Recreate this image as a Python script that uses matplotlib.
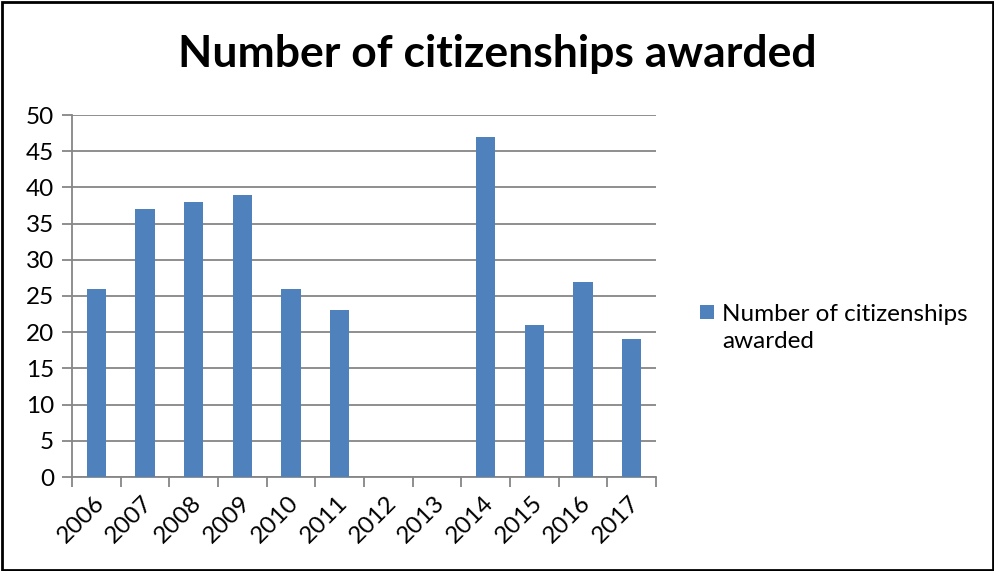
import matplotlib
matplotlib.use("Agg")
import matplotlib.pyplot as plt
from matplotlib.patches import Rectangle
from matplotlib.legend_handler import HandlerPatch

anos = ["2006", "2007", "2008", "2009", "2010", "2011", "2012", "2013",
        "2014", "2015", "2016", "2017"]
cidadanias = [26, 37, 38, 39, 26, 23, 0, 0, 47, 21, 27, 19]
rotulo_serie = "Number of citizenships\nawarded"
titulo = "Number of citizenships awarded"

cor_barra = "#4F81BD"
cor_eixo = "#868686"
tam_fonte = 17.5
espaco_linha = 1.3


class HandlerPrimeiraLinha(HandlerPatch):
    # alinha o quadrado da legenda com a primeira linha do texto
    def create_artists(self, legend, orig_handle, xdescent, ydescent,
                       width, height, fontsize, trans):
        desloc = 0.5 * espaco_linha * fontsize
        p = Rectangle((-xdescent, -ydescent + desloc), width, height)
        self.update_prop(p, orig_handle.patches[0], legend)
        p.set_transform(trans)
        return [p]


plt.rcParams["font.family"] = ["Lato", "DejaVu Sans"]

fig = plt.figure(figsize=(9.95, 5.71), dpi=100)
ax = fig.add_axes([72 / 995, 1 - 477 / 571, (656 - 72) / 995, (477 - 115) / 571])

posicoes = list(range(len(anos)))
barras = ax.bar(posicoes, cidadanias, width=0.4, color=cor_barra, zorder=3,
                label=rotulo_serie)

ax.set_xlim(-0.5, len(anos) - 0.5)
ax.set_ylim(0, 50)
ax.set_yticks(range(0, 51, 5))
ax.tick_params(axis="y", length=7, width=1.3, color=cor_eixo,
               labelsize=tam_fonte, pad=6)
ax.grid(axis="y", color=cor_eixo, linewidth=1.3, zorder=0)

# ticks nas fronteiras das categorias, rotulos no centro
ax.set_xticks([p - 0.5 for p in posicoes] + [len(anos) - 0.5])
ax.set_xticklabels([])
ax.set_xticks([p - 0.06 for p in posicoes], minor=True)
ax.set_xticklabels(anos, minor=True, rotation=45, ha="right",
                   rotation_mode="anchor", fontsize=tam_fonte)
ax.tick_params(axis="x", which="major", length=7, width=1.3, color=cor_eixo)
ax.tick_params(axis="x", which="minor", length=0, pad=11)

for lado in ["top", "right"]:
    ax.spines[lado].set_visible(False)
for lado in ["left", "bottom"]:
    ax.spines[lado].set_color(cor_eixo)
    ax.spines[lado].set_linewidth(1.3)

fig.text(0.5, 1 - 54 / 571, titulo, ha="center", va="center",
         fontsize=32, fontweight="bold")

leg = ax.legend(loc="center left", bbox_to_anchor=(688 / 995, 1 - 328 / 571),
                bbox_transform=fig.transFigure, frameon=False,
                fontsize=tam_fonte, handlelength=0.55, handleheight=0.55,
                handletextpad=0.35, borderpad=0, labelspacing=0,
                handler_map={barras: HandlerPrimeiraLinha()})
for texto in leg.get_texts():
    texto.set_linespacing(espaco_linha)

fig.patches.append(Rectangle((2 / 995, 1 / 571), 991 / 995, 568 / 571,
                             transform=fig.transFigure, fill=False,
                             edgecolor="black", linewidth=2))

fig.savefig("out.png", dpi=100)
